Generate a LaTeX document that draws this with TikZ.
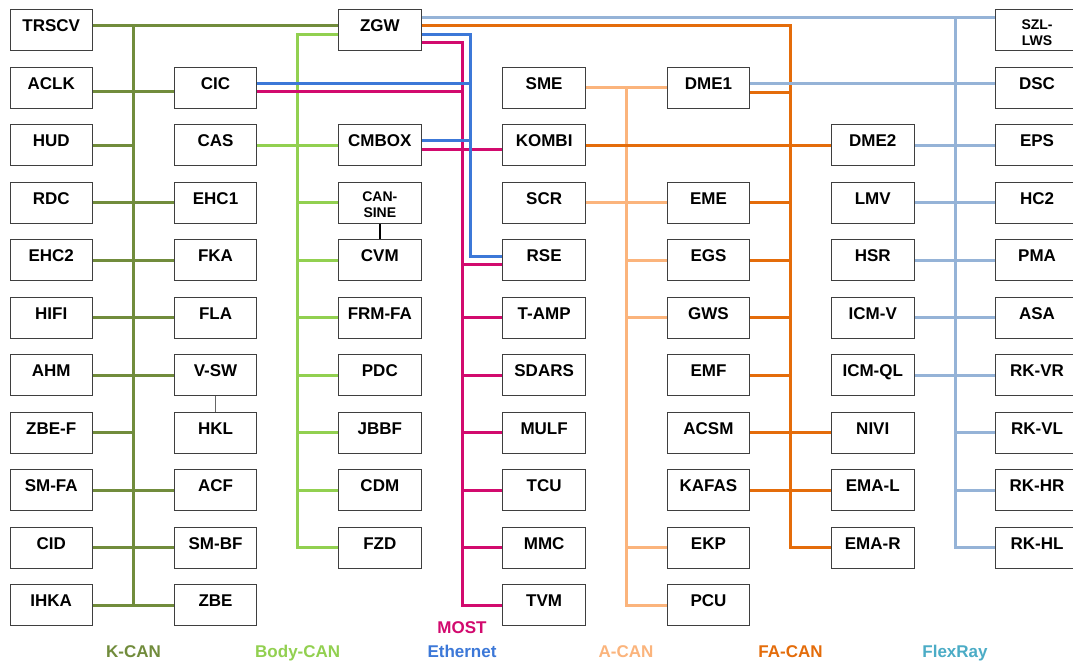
\documentclass[tikz,border=0pt]{standalone}
\usepackage{fontspec}
\setmainfont{Liberation Sans}
\usetikzlibrary{backgrounds}
\definecolor{kcanc}{HTML}{718C3C}
\definecolor{bodyc}{HTML}{92D050}
\definecolor{ethc}{HTML}{3C78D8}
\definecolor{mostc}{HTML}{D20A6E}
\definecolor{acanc}{HTML}{FBB47C}
\definecolor{facanc}{HTML}{E46C0A}
\definecolor{flexc}{HTML}{95B3D7}
\definecolor{flextxt}{HTML}{4BACC6}
\definecolor{boxc}{HTML}{3F3F3F}
\tikzset{
  ecu/.style={draw=boxc, line width=1pt, fill=white, minimum width=82.5pt, minimum height=41pt,
    inner sep=0pt, text height=12.2pt, text depth=9pt, font=\fontsize{17}{20}\selectfont\bfseries},
  smalltxt/.style={font=\fontsize{14}{16}\selectfont\bfseries, anchor=base, inner sep=0pt},
  legend/.style={font=\fontsize{17}{20}\selectfont\bfseries, anchor=base, inner sep=0pt},
  bus/.style={line width=3pt},
  kcan/.style={bus, draw=kcanc},
  bodycan/.style={bus, draw=bodyc},
  eth/.style={bus, draw=ethc},
  most/.style={bus, draw=mostc},
  acan/.style={bus, draw=acanc},
  facan/.style={bus, draw=facanc},
  flex/.style={bus, draw=flexc},
}
\begin{document}
\begin{tikzpicture}[x=1pt,y=-1pt]
\useasboundingbox (0,0) rectangle (1073,662);
% column 1
\node[ecu] (trscv) at (51.25,30) {TRSCV};
\node[ecu] (aclk) at (51.25,87.5) {ACLK};
\node[ecu] (hud) at (51.25,145) {HUD};
\node[ecu] (rdc) at (51.25,202.5) {RDC};
\node[ecu] (ehc2) at (51.25,260) {EHC2};
\node[ecu] (hifi) at (51.25,317.5) {HIFI};
\node[ecu] (ahm) at (51.25,375) {AHM};
\node[ecu] (zbef) at (51.25,432.5) {ZBE-F};
\node[ecu] (smfa) at (51.25,490) {SM-FA};
\node[ecu] (cid) at (51.25,547.5) {CID};
\node[ecu] (ihka) at (51.25,605) {IHKA};
% column 2
\node[ecu] (cic) at (215.55,87.5) {CIC};
\node[ecu] (cas) at (215.55,145) {CAS};
\node[ecu] (ehc1) at (215.55,202.5) {EHC1};
\node[ecu] (fka) at (215.55,260) {FKA};
\node[ecu] (fla) at (215.55,317.5) {FLA};
\node[ecu] (vsw) at (215.55,375) {V-SW};
\node[ecu] (hkl) at (215.55,432.5) {HKL};
\node[ecu] (acf) at (215.55,490) {ACF};
\node[ecu] (smbf) at (215.55,547.5) {SM-BF};
\node[ecu] (zbe) at (215.55,605) {ZBE};
% column 3
\node[ecu] (zgw) at (379.85,30) {ZGW};
\node[ecu] (cmbox) at (379.85,145) {CMBOX};
\node[ecu] (cansine) at (379.85,202.5) {};
\node[smalltxt] (cansineA) at (379.85,201.5) {CAN-};
\node[smalltxt] (cansineB) at (379.85,217.8) {SINE};
\node[ecu] (cvm) at (379.85,260) {CVM};
\node[ecu] (frmfa) at (379.85,317.5) {FRM-FA};
\node[ecu] (pdc) at (379.85,375) {PDC};
\node[ecu] (jbbf) at (379.85,432.5) {JBBF};
\node[ecu] (cdm) at (379.85,490) {CDM};
\node[ecu] (fzd) at (379.85,547.5) {FZD};
% column 4
\node[ecu] (sme) at (544.15,87.5) {SME};
\node[ecu] (kombi) at (544.15,145) {KOMBI};
\node[ecu] (scr) at (544.15,202.5) {SCR};
\node[ecu] (rse) at (544.15,260) {RSE};
\node[ecu] (tamp) at (544.15,317.5) {T-AMP};
\node[ecu] (sdars) at (544.15,375) {SDARS};
\node[ecu] (mulf) at (544.15,432.5) {MULF};
\node[ecu] (tcu) at (544.15,490) {TCU};
\node[ecu] (mmc) at (544.15,547.5) {MMC};
\node[ecu] (tvm) at (544.15,605) {TVM};
% column 5
\node[ecu] (dme1) at (708.45,87.5) {DME1};
\node[ecu] (eme) at (708.45,202.5) {EME};
\node[ecu] (egs) at (708.45,260) {EGS};
\node[ecu] (gws) at (708.45,317.5) {GWS};
\node[ecu] (emf) at (708.45,375) {EMF};
\node[ecu] (acsm) at (708.45,432.5) {ACSM};
\node[ecu] (kafas) at (708.45,490) {KAFAS};
\node[ecu] (ekp) at (708.45,547.5) {EKP};
\node[ecu] (pcu) at (708.45,605) {PCU};
% column 6
\node[ecu] (dme2) at (872.75,145) {DME2};
\node[ecu] (lmv) at (872.75,202.5) {LMV};
\node[ecu] (hsr) at (872.75,260) {HSR};
\node[ecu] (icmv) at (872.75,317.5) {ICM-V};
\node[ecu] (icmql) at (872.75,375) {ICM-QL};
\node[ecu] (nivi) at (872.75,432.5) {NIVI};
\node[ecu] (emal) at (872.75,490) {EMA-L};
\node[ecu] (emar) at (872.75,547.5) {EMA-R};
% column 7
\node[ecu] (szl) at (1037.05,30) {};
\node[smalltxt] (szlA) at (1037.05,29.5) {SZL-};
\node[smalltxt] (szlB) at (1037.05,45.8) {LWS};
\node[ecu] (dsc) at (1037.05,87.5) {DSC};
\node[ecu] (eps) at (1037.05,145) {EPS};
\node[ecu] (hc2) at (1037.05,202.5) {HC2};
\node[ecu] (pma) at (1037.05,260) {PMA};
\node[ecu] (asa) at (1037.05,317.5) {ASA};
\node[ecu] (rkvr) at (1037.05,375) {RK-VR};
\node[ecu] (rkvl) at (1037.05,432.5) {RK-VL};
\node[ecu] (rkhr) at (1037.05,490) {RK-HR};
\node[ecu] (rkhl) at (1037.05,547.5) {RK-HL};
% bus x positions
\coordinate (kb) at (133.4,0);
\coordinate (bb) at (297.7,0);
\coordinate (mb) at (462.3,0);
\coordinate (eb) at (470.5,0);
\coordinate (ab) at (626.4,0);
\coordinate (fb) at (790.7,0);
\coordinate (xb) at (955.3,0);
% legend
\node[legend, text=mostc] (lmost) at (462,633) {MOST};
\node[legend, text=kcanc] (lk) at (133.5,657.5) {K-CAN};
\node[legend, text=bodyc] (lbody) at (297.7,657.5) {Body-CAN};
\node[legend, text=ethc] (leth) at (462,657.5) {Ethernet};
\node[legend, text=acanc] (la) at (626,657.5) {A-CAN};
\node[legend, text=facanc] (lfa) at (790.5,657.5) {FA-CAN};
\node[legend, text=flextxt] (lflex) at (955,657.5) {FlexRay};
\begin{scope}[on background layer]
\fill[white] (0,0) rectangle (1073,662);
% K-CAN
\draw[kcan] ([yshift=4.3pt]trscv.east) -- ([yshift=4.3pt]zgw.west);
\draw[kcan] (133.4,25.7) -- (133.4,605);
\draw[kcan] ([yshift=-4.2pt]aclk.east) -- ([yshift=-4.2pt]cic.west);
\draw[kcan] (hud.east) -- (hud.east -| kb);
\draw[kcan] (rdc.east) -- (ehc1.west);
\draw[kcan] (ehc2.east) -- (fka.west);
\draw[kcan] (hifi.east) -- (fla.west);
\draw[kcan] (ahm.east) -- (vsw.west);
\draw[kcan] (zbef.east) -- (zbef.east -| kb);
\draw[kcan] (smfa.east) -- (acf.west);
\draw[kcan] (cid.east) -- (smbf.west);
\draw[kcan] (ihka.east) -- (zbe.west);
% Body-CAN
\draw[bodycan] ([yshift=-4pt]zgw.west) -| (fzd.west -| bb) -- (fzd.west);
\draw[bodycan] (cas.east) -- (cmbox.west);
\draw[bodycan] (cansine.west -| bb) -- (cansine.west);
\draw[bodycan] (cvm.west -| bb) -- (cvm.west);
\draw[bodycan] (frmfa.west -| bb) -- (frmfa.west);
\draw[bodycan] (pdc.west -| bb) -- (pdc.west);
\draw[bodycan] (jbbf.west -| bb) -- (jbbf.west);
\draw[bodycan] (cdm.west -| bb) -- (cdm.west);
% MOST
\draw[most] ([yshift=-12.3pt]zgw.east) -| (tvm.west -| mb) -- (tvm.west);
\draw[most] ([yshift=-4.2pt]cic.east) -- (462.3,91.7);
\draw[most] ([yshift=-4.3pt]cmbox.east) -- ([yshift=-4.3pt]kombi.west);
\draw[most] (462.3,264.3) -- ([yshift=-4.3pt]rse.west);
\draw[most] (tamp.west -| mb) -- (tamp.west);
\draw[most] (sdars.west -| mb) -- (sdars.west);
\draw[most] (mulf.west -| mb) -- (mulf.west);
\draw[most] (tcu.west -| mb) -- (tcu.west);
\draw[most] (mmc.west -| mb) -- (mmc.west);
% Ethernet
\draw[eth] ([yshift=-4pt]zgw.east) -| (470.5,256) -- ([yshift=4pt]rse.west);
\draw[eth] ([yshift=4.2pt]cic.east) -- (470.5,83.3);
\draw[eth] ([yshift=4.3pt]cmbox.east) -- (470.5,140.7);
% A-CAN
\draw[acan] (sme.east) -- (dme1.west);
\draw[acan] (sme.east -| ab) |- (pcu.west);
\draw[acan] (scr.east) -- (eme.west);
\draw[acan] (egs.west -| ab) -- (egs.west);
\draw[acan] (gws.west -| ab) -- (gws.west);
\draw[acan] (ekp.west -| ab) -- (ekp.west);
% FA-CAN
\draw[facan] ([yshift=4.3pt]zgw.east) -| (emar.west -| fb) -- (emar.west);
\draw[facan] ([yshift=-4.6pt]dme1.east) -- (790.7,92.1);
\draw[facan] (kombi.east) -- (dme2.west);
\draw[facan] (eme.east) -- (eme.east -| fb);
\draw[facan] (egs.east) -- (egs.east -| fb);
\draw[facan] (gws.east) -- (gws.east -| fb);
\draw[facan] (emf.east) -- (emf.east -| fb);
\draw[facan] (acsm.east) -- (nivi.west);
\draw[facan] (kafas.east) -- (emal.west);
% FlexRay
\draw[flex] ([yshift=12.7pt]zgw.east) -- ([yshift=12.7pt]szl.west);
\draw[flex] (955.3,17.3) |- (rkhl.west);
\draw[flex] ([yshift=4.2pt]dme1.east) -- ([yshift=4.2pt]dsc.west);
\draw[flex] (dme2.east) -- (eps.west);
\draw[flex] (lmv.east) -- (hc2.west);
\draw[flex] (hsr.east) -- (pma.west);
\draw[flex] (icmv.east) -- (asa.west);
\draw[flex] (icmql.east) -- (rkvr.west);
\draw[flex] (rkvl.west -| xb) -- (rkvl.west);
\draw[flex] (rkhr.west -| xb) -- (rkhr.west);
% other links
\draw[line width=2.5pt, black] (cansine.south) -- (cvm.north);
\draw[line width=1pt, draw=black!60] (vsw.south) -- (hkl.north);
\end{scope}
\end{tikzpicture}
\end{document}
